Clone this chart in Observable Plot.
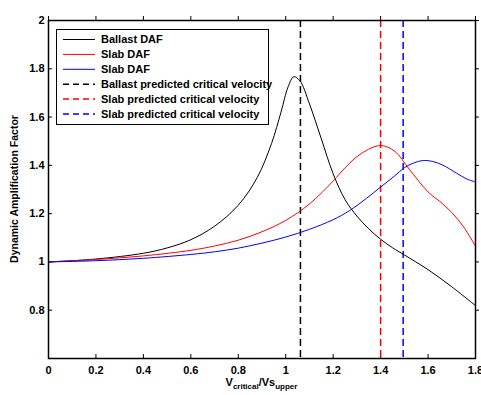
<!DOCTYPE html>
<html>
<head>
<meta charset="utf-8">
<script src="https://cdn.jsdelivr.net/npm/d3@7"></script>
<script src="https://cdn.jsdelivr.net/npm/@observablehq/plot@0.6"></script>
<style>
  body { margin: 0; background: #fff; }
  #chart svg { display: block; }
</style>
</head>
<body>
<div id="chart"></div>
<script>
// ---- data ----
const ballastX = [0, 0.2, 0.4, 0.5, 0.6, 0.7, 0.8, 0.88, 0.94, 0.98, 1.01, 1.034, 1.06, 1.1, 1.15, 1.2, 1.25, 1.3, 1.35, 1.4, 1.45, 1.5, 1.6, 1.7, 1.8];
const ballastY = [1.0, 1.012, 1.036, 1.058, 1.092, 1.148, 1.235, 1.35, 1.49, 1.62, 1.725, 1.767, 1.75, 1.655, 1.51, 1.365, 1.258, 1.19, 1.137, 1.094, 1.059, 1.029, 0.968, 0.897, 0.819];

const slabRedX = [0, 0.2, 0.4, 0.6, 0.7, 0.8, 0.9, 1.0, 1.1, 1.2, 1.25, 1.32, 1.4, 1.46, 1.52, 1.6, 1.65, 1.7, 1.75, 1.8];
const slabRedY = [1.0, 1.01, 1.025, 1.048, 1.066, 1.09, 1.125, 1.172, 1.24, 1.335, 1.39, 1.45, 1.482, 1.458, 1.385, 1.29, 1.25, 1.205, 1.145, 1.065];

const slabBlueX = [0, 0.2, 0.4, 0.6, 0.7, 0.8, 0.9, 1.0, 1.1, 1.2, 1.27, 1.34, 1.4, 1.46, 1.5, 1.54, 1.58, 1.62, 1.66, 1.72, 1.76, 1.8];
const slabBlueY = [1.0, 1.005, 1.015, 1.031, 1.042, 1.057, 1.078, 1.103, 1.135, 1.175, 1.213, 1.263, 1.31, 1.357, 1.39, 1.41, 1.42, 1.416, 1.402, 1.368, 1.345, 1.331];

const criticalX = [1.062, 1.4, 1.495];
const criticalColors = ["black", "#ff0000", "#0000ff"];

const legendLabels = [
  "Ballast DAF", "Slab DAF", "Slab DAF",
  "Ballast predicted critical velocity", "Slab predicted critical velocity", "Slab predicted critical velocity"
];
const legendColors = ["black", "#ff0000", "#0000ff", "black", "#ff0000", "#0000ff"];
const legendDashed = [false, false, false, true, true, true];

const xTicks = [0, 0.2, 0.4, 0.6, 0.8, 1, 1.2, 1.4, 1.6, 1.8];
const yTicks = [0.8, 1, 1.2, 1.4, 1.6, 1.8, 2];
const xDomain = [0, 1.8];
const yDomain = [0.6, 2];

const toRows = (xs, ys) => xs.map((x, i) => ({x, y: ys[i]}));

const font = "'Liberation Sans', Arial, Helvetica, sans-serif";

const W = 481, H = 395, ML = 48, MR = 6, MT = 20, MB = 37;
const TK = 4;

const marks = [
  Plot.axisX({ticks: xTicks, tickSize: 0, tickPadding: 8, tickFormat: d => String(d), label: null}),
  Plot.axisY({ticks: yTicks, tickSize: 0, tickPadding: 4, tickFormat: d => String(d), label: null}),
  // inward ticks on all four sides (MATLAB style)
  Plot.ruleX(xTicks, {x: d => d, y1: yDomain[0], y2: yDomain[0], insetBottom: TK, stroke: "black", strokeWidth: 1}),
  Plot.ruleX(xTicks, {x: d => d, y1: yDomain[1], y2: yDomain[1], insetTop: -TK, stroke: "black", strokeWidth: 1}),
  Plot.ruleY(yTicks, {y: d => d, x1: xDomain[0], x2: xDomain[0], insetRight: -TK, stroke: "black", strokeWidth: 1}),
  Plot.ruleY(yTicks, {y: d => d, x1: xDomain[1], x2: xDomain[1], insetLeft: TK, stroke: "black", strokeWidth: 1})
];
criticalX.forEach((v, i) => {
  marks.push(Plot.ruleX([v], {stroke: criticalColors[i], strokeWidth: 1.5, strokeDasharray: "7,4"}));
});
marks.push(
  Plot.line(toRows(ballastX, ballastY), {x: "x", y: "y", stroke: "black", strokeWidth: 1, curve: "catmull-rom"}),
  Plot.line(toRows(slabRedX, slabRedY), {x: "x", y: "y", stroke: "#ff0000", strokeWidth: 1, curve: "catmull-rom"}),
  Plot.line(toRows(slabBlueX, slabBlueY), {x: "x", y: "y", stroke: "#0000ff", strokeWidth: 1, curve: "catmull-rom"}),
  Plot.frame({stroke: "black", strokeWidth: 1.5})
);

const chart = Plot.plot({
  width: W,
  height: H,
  marginLeft: ML,
  marginRight: MR,
  marginTop: MT,
  marginBottom: MB,
  style: {fontFamily: font, fontSize: "11px", fontWeight: "bold", background: "white", color: "black"},
  x: {domain: xDomain},
  y: {domain: yDomain},
  marks
});

document.getElementById("chart").appendChild(chart);

const svg = d3.select(chart);
const x0 = ML, x1 = W - MR, y0 = H - MB, y1 = MT;

// legend
const lg = svg.append("g").attr("font-family", font).attr("font-size", 11)
  .attr("font-weight", "bold").attr("text-anchor", "start");
lg.append("rect").attr("x", 56.5).attr("y", 29.5).attr("width", 212).attr("height", 95)
  .attr("fill", "white").attr("stroke", "black").attr("stroke-width", 1);
legendLabels.forEach((t, i) => {
  const cy = 39.5 + i * 14.9;
  lg.append("line").attr("x1", 63).attr("x2", 95).attr("y1", cy).attr("y2", cy)
    .attr("stroke", legendColors[i]).attr("stroke-width", legendDashed[i] ? 1.5 : 1)
    .attr("stroke-dasharray", legendDashed[i] ? "6,4" : null);
  lg.append("text").attr("x", 101).attr("y", cy).attr("dy", "0.35em")
    .attr("text-anchor", "start").attr("fill", "black").text(t);
});

// axis labels
const xl = svg.append("text").attr("x", (x0 + x1) / 2).attr("y", 386).attr("text-anchor", "middle")
  .attr("font-family", font).attr("font-size", 11).attr("font-weight", "bold").attr("fill", "black");
xl.append("tspan").text("V");
xl.append("tspan").attr("font-size", 8).attr("dy", 3).text("critical");
xl.append("tspan").attr("dy", -3).text("/Vs");
xl.append("tspan").attr("font-size", 8).attr("dy", 3).text("upper");

svg.append("text").attr("transform", `translate(18,${(y0 + y1) / 2}) rotate(-90)`)
  .attr("text-anchor", "middle").attr("font-family", font).attr("font-size", 10.5)
  .attr("font-weight", "bold").attr("fill", "black").text("Dynamic Amplification Factor");
</script>
</body>
</html>
